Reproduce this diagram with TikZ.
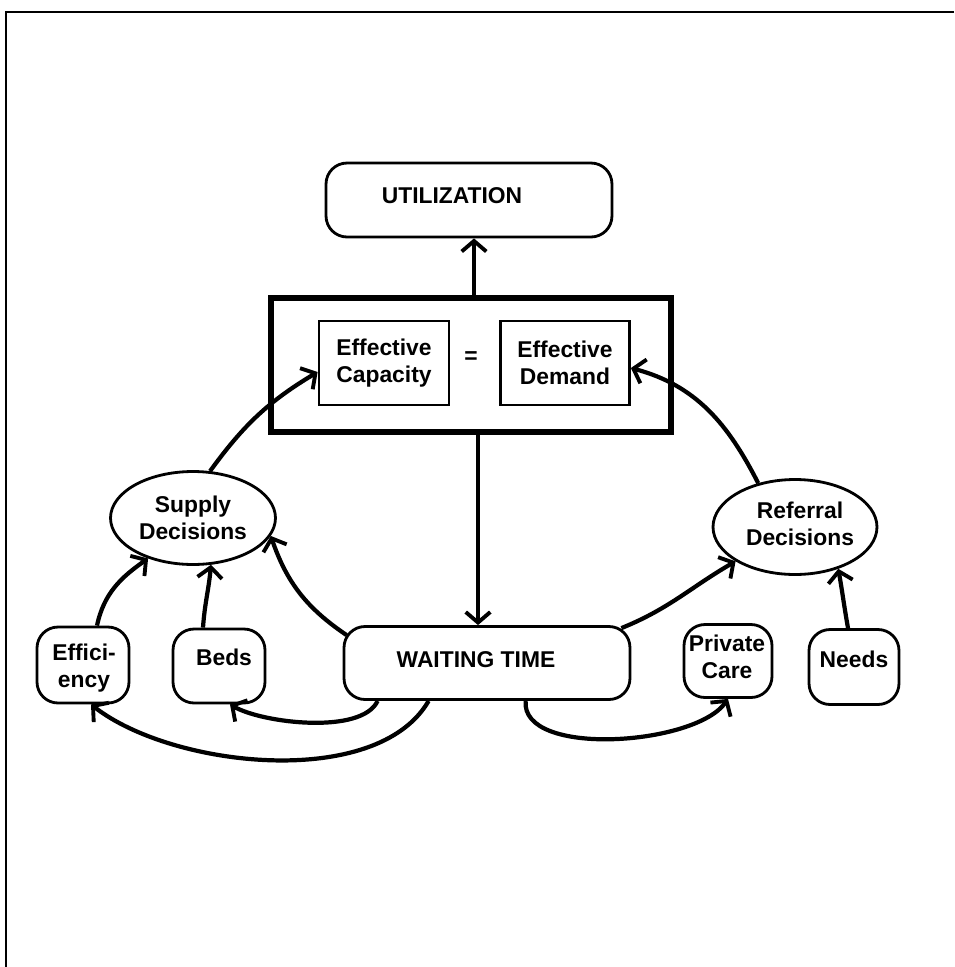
\documentclass[tikz,border=0pt]{standalone}
\usepackage{fontspec}
\setmainfont{Liberation Sans}
\usetikzlibrary{arrows.meta,shapes.geometric,calc}
\begin{document}
\begin{tikzpicture}[x=0.02cm,y=-0.02cm,
  lbl/.style={font=\bfseries\fontsize{13}{15.5}\selectfont, align=center, inner sep=0pt},
  rbox/.style={draw, line width=1.6pt, rounded corners=0.42cm, inner sep=0pt},
  sbox/.style={lbl, draw, line width=1.6pt},
  ell/.style={lbl, draw, ellipse, line width=1.6pt},
  arr/.style={line width=2.4pt, -{Straight Barb[length=6pt,width=14pt,line width=2.2pt]}}]
\useasboundingbox (0,0) rectangle (954,967);
% frame
\coordinate (ftl) at (6,12);
\coordinate (ftr) at (954,12);
\coordinate (fbl) at (6,967);
\draw[line width=1.2pt] (ftr) -- (ftl) -- (fbl);
% boxes
\node[rbox, minimum width=5.72cm, minimum height=1.48cm] (util) at (469,200) {};
\node[lbl] (utiltext) at (452,196) {UTILIZATION};
\node[draw, line width=3.4pt, minimum width=8.0cm, minimum height=2.68cm, inner sep=0pt] (big) at (471,365) {};
\node[sbox, minimum width=2.6cm, minimum height=1.68cm] (cap) at (384,363) {Effective\\Capacity};
\node[sbox, minimum width=2.58cm, minimum height=1.68cm] (dem) at (565,363) {Effective\\Demand};
\node[lbl] (eq) at (471,358) {=};
\node[ell, minimum width=3.3cm, minimum height=1.86cm] (supply) at (193,518) {Supply\\Decisions};
\node[ell, minimum width=3.28cm, minimum height=1.9cm] (referral) at (795,527) {};
\node[lbl] (reftext) at (800,524) {Referral\\Decisions};
\node[rbox, minimum width=1.84cm, minimum height=1.52cm] (eff) at (83,665) {};
\node[lbl] (efftext) at (84,668) {Effici-\\ency};
\node[rbox, minimum width=1.84cm, minimum height=1.48cm] (beds) at (219,666) {};
\node[lbl] (bedstext) at (224,657) {Beds};
\node[rbox, minimum width=5.72cm, minimum height=1.46cm] (wait) at (487,663) {};
\node[lbl] (waittext) at (476,660) {WAITING TIME};
\node[rbox, minimum width=1.76cm, minimum height=1.46cm] (priv) at (728,661) {};
\node[lbl] (privtext) at (727,657) {Private\\Care};
\node[rbox, minimum width=1.8cm, minimum height=1.5cm] (needs) at (854,667) {};
\node[lbl] (needstext) at (854,659) {Needs};
% arrows
\draw[arr] ($(big.north)+(3,0)$) -- ($(util.south)+(5,0)$);
\draw[arr] ($(big.south)+(7,0)$) -- ($(wait.north)+(-9,0)$);
\draw[arr] (supply.70) to[out=54,in=211] ($(cap.west)+(0,9)$);
\draw[arr] (referral.130) to[out=117,in=-15] ($(dem.east)+(0,5)$);
\draw[arr] ($(wait.north west)+(4,10)$) to[out=146,in=-71] (supply.-13);
\draw[arr] ($(eff.north)+(14,0)$) to[out=78,in=-145] (supply.-138);
\draw[arr] ($(beds.north)+(-16,0)$) to[out=86,in=-95] (supply.-69);
\draw[arr] ($(wait.north east)+(-10,3)$) to[out=22,in=-150] (referral.-150);
\draw[arr] ($(needs.north)+(-6,0)$) to[out=100,in=-80] (referral.-44);
\draw[arr] ($(wait.south west)+(35,0)$) to[out=-115,in=-30,looseness=0.65] ($(beds.south)+(11,0)$);
\draw[arr] ($(wait.south west)+(86,0)$) to[out=-120,in=-38,looseness=0.78] ($(eff.south)+(8,0)$);
\draw[arr] ($(wait.south west)+(183,0)$) to[out=-95,in=-125,looseness=0.72] (priv.south);
\end{tikzpicture}
\end{document}
